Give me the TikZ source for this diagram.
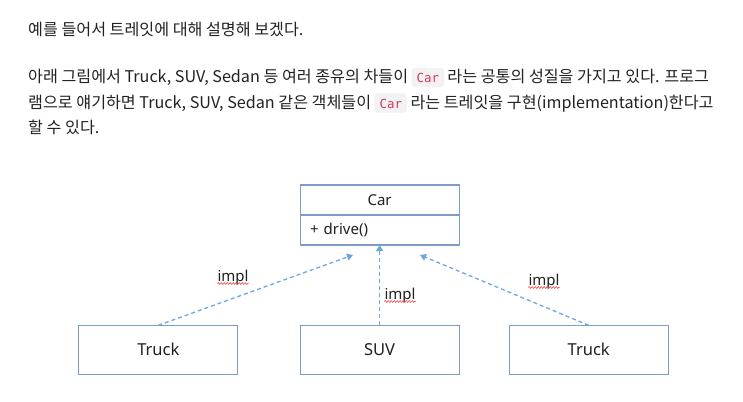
\documentclass[tikz,border=0pt]{standalone}
\usepackage{fontspec}
\setmainfont{Noto Sans CJK KR}
\newfontfamily\diagfont{Noto Sans}
\newfontfamily\codefont{DejaVu Sans Mono}
\usetikzlibrary{arrows.meta,decorations.pathmorphing}
\definecolor{txt}{HTML}{222222}
\definecolor{boxc}{HTML}{7E9CC5}
\definecolor{lnc}{HTML}{6FA6DE}
\definecolor{codebg}{HTML}{F2F2F2}
\definecolor{codefg}{HTML}{D2385C}
\definecolor{squig}{HTML}{E85555}
\definecolor{dtxt}{HTML}{202020}
\tikzset{
  para/.style={anchor=base west, inner sep=0pt, text=txt, font=\fontsize{16.15}{19}\selectfont},
  code/.style={anchor=base west, fill=codebg, rounded corners=3pt, text=codefg,
    font=\codefont\fontsize{12.5}{14}\selectfont, inner xsep=5pt, inner ysep=3.5pt,
    text height=11pt, text depth=1pt},
  cls/.style={draw=boxc, line width=1.2pt, minimum width=159pt, text=dtxt, inner sep=0pt, outer sep=0pt},
  smallt/.style={font=\diagfont\fontsize{15}{17}\selectfont},
  bigt/.style={font=\diagfont\fontsize{16.5}{19}\selectfont},
  conn/.style={lnc, line width=1.3pt, dash pattern=on 4pt off 3pt, -{Triangle[length=6pt,width=7pt]}},
  lbl/.style={anchor=base, inner sep=0pt, text=dtxt, font=\diagfont\fontsize{15}{17}\selectfont},
  wavy/.style={squig, line width=0.7pt, decorate, decoration={snake, amplitude=0.8pt, segment length=3pt}}
}
\begin{document}
\begin{tikzpicture}[x=1pt,y=-1pt]
\path[fill=white, use as bounding box] (0,0) rectangle (743,401);

% paragraph text
\node[para] (l1) at (28,35.5) {예를 들어서 트레잇에 대해 설명해 보겠다.};
\node[para] (l2a) at (28,82.7) {아래 그림에서 Truck, SUV, Sedan 등 여러 종유의 차들이};
\node[code] (c1) at ([xshift=3pt]l2a.base east) {Car};
\node[para] (l2b) at ([xshift=3pt]c1.base east) {라는 공통의 성질을 가지고 있다. 프로그};
\node[para] (l3a) at (28,108) {램으로 얘기하면 Truck, SUV, Sedan 같은 객체들이};
\node[code] (c2) at ([xshift=3pt]l3a.base east) {Car};
\node[para] (l3b) at ([xshift=3pt]c2.base east) {라는 트레잇을 구현(implementation)한다고};
\node[para] (l4) at (28,133) {할 수 있다.};

% class box
\node[cls, smallt, minimum height=30pt] (car) at (379.6,200) {Car};
\node[cls, smallt, minimum height=30pt, anchor=north, text width=139pt, align=left, inner xsep=10pt] (drv) at (car.south) {+ drive()};

% implementing boxes
\node[cls, bigt, minimum height=49pt] (lt) at (158.3,349.8) {Truck};
\node[cls, bigt, minimum height=49pt] (suv) at (379.6,349.8) {SUV};
\node[cls, bigt, minimum height=49pt] (rt) at (588.7,349.8) {Truck};

% connectors
\coordinate (ltip) at (353,255);
\coordinate (rtip) at (420,255);
\draw[conn] (lt.north) -- (ltip);
\draw[conn] (suv.north) -- (drv.south);
\draw[conn] (rt.north) -- (rtip);

% labels
\node[lbl] (i1) at (233,281) {impl};
\node[lbl] (i2) at (400,299) {impl};
\node[lbl] (i3) at (544,285) {impl};
\draw[wavy] ([yshift=-2.5pt]i1.base west) -- ([yshift=-2.5pt]i1.base east);
\draw[wavy] ([yshift=-2.5pt]i2.base west) -- ([yshift=-2.5pt]i2.base east);
\draw[wavy] ([yshift=-2.5pt]i3.base west) -- ([yshift=-2.5pt]i3.base east);
\end{tikzpicture}
\end{document}
